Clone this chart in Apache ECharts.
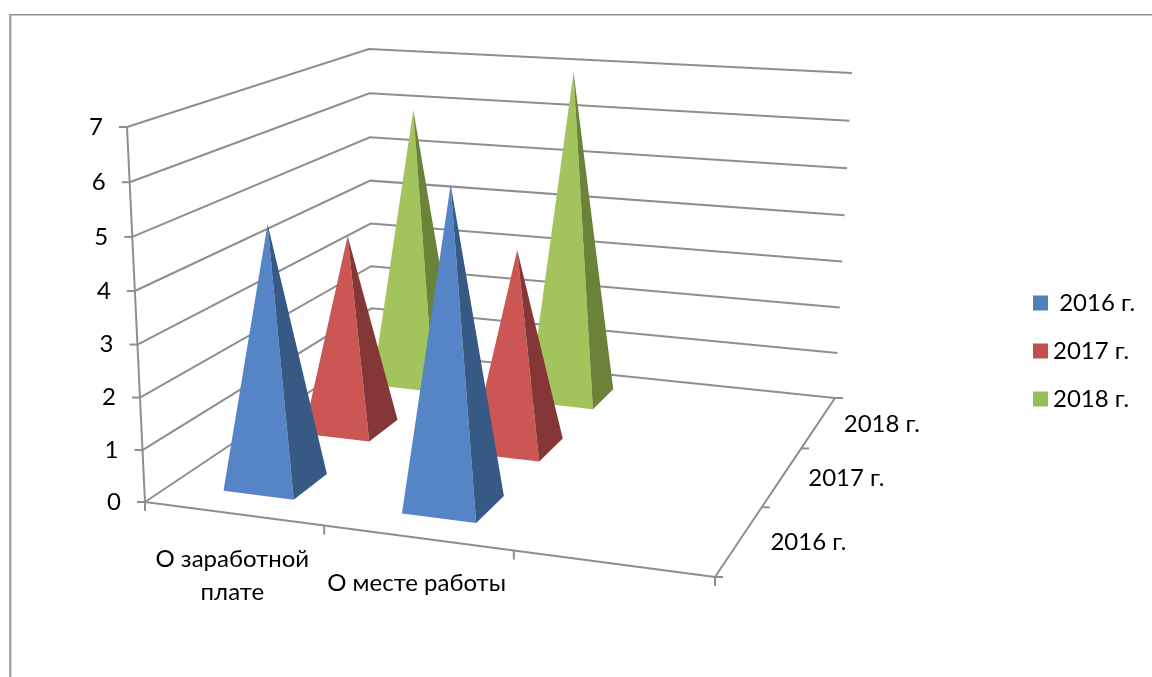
<!DOCTYPE html>
<html>
<head>
<meta charset="utf-8">
<style>html,body{margin:0;padding:0;background:#fff}#chart{width:1152px;height:677px}</style>
<script src="https://cdn.jsdelivr.net/npm/echarts@6/dist/echarts.min.js"></script>
</head>
<body>
<div id="chart"></div>
<script>
// Chart data
const categories = ['О заработной\nплате', 'О месте работы', ''];
const years = ['2016 г.', '2017 г.', '2018 г.'];
const valueTicks = [0, 1, 2, 3, 4, 5, 6, 7];
const values2016 = [5, 6];
const values2017 = [4, 4];
const values2018 = [6, 7];

// Face colours per year: legend swatch, lit front face, shaded right face
const swatchColors = ['#4F81BD', '#C0504D', '#9BBB59'];
const frontColors = ['#5585C6', '#CC5654', '#A3C45C'];
const sideColors = ['#375A84', '#843736', '#6B8239'];

const FONT = 'Lato, "Open Sans", sans-serif';
const FONT_SIZE = 24;
const LINE = '#8E8E8E';

// Perspective box of the 3D plot: floor and ceiling quads in screen space,
// ordered front-left, front-right, back-right, back-left.
const floorQuad = [[145, 502], [715, 577], [835, 398], [372, 350]];
const ceilQuad = [[127, 127], [736, 170], [852, 73], [369, 49]];
const VALUE_MAX = 7;
const HEIGHT_PERSPECTIVE = 0.965;
const BASE_WIDTH = 0.40;   // share of a category cell taken by a pyramid base
const BASE_DEPTH = 0.42;   // share of a depth cell
const DEPTH_LABEL_GAPS = [31, 26, 25]; // space between the depth axis and its labels

// Unit square to quad homography
function homography(q) {
  const [[x0, y0], [x1, y1], [x2, y2], [x3, y3]] = q;
  const dx1 = x1 - x2, dx2 = x3 - x2, dx3 = x0 - x1 + x2 - x3;
  const dy1 = y1 - y2, dy2 = y3 - y2, dy3 = y0 - y1 + y2 - y3;
  const det = dx1 * dy2 - dx2 * dy1;
  const g = (dx3 * dy2 - dx2 * dy3) / det;
  const h = (dx1 * dy3 - dx3 * dy1) / det;
  const a = x1 - x0 + g * x1, b = x3 - x0 + h * x3;
  const d = y1 - y0 + g * y1, e = y3 - y0 + h * y3;
  return (u, v) => {
    const w = g * u + h * v + 1;
    return [(a * u + b * v + x0) / w, (d * u + e * v + y0) / w];
  };
}
const floorAt = homography(floorQuad);
const ceilAt = homography(ceilQuad);

// 3D plot position (column, row, value) to screen position
function project(col, row, value) {
  const u = col / categories.length, v = row / years.length;
  const p0 = floorAt(u, v), p1 = ceilAt(u, v);
  const t = value / VALUE_MAX;
  const k = HEIGHT_PERSPECTIVE;
  const s = t * k / (1 + (k - 1) * t);
  return [p0[0] + (p1[0] - p0[0]) * s, p0[1] + (p1[1] - p0[1]) * s];
}

const stroke = { stroke: LINE, lineWidth: 2, fill: null };
const textStyle = extra => Object.assign({
  fill: '#000', fontSize: FONT_SIZE, fontFamily: FONT
}, extra);

function pyramidSeries(rowIndex, values) {
  return {
    type: 'custom',
    name: years[rowIndex],
    coordinateSystem: 'cartesian2d',
    clip: false,
    z: 10 + (years.length - rowIndex),
    itemStyle: { color: swatchColors[rowIndex] },
    data: values.map((v, i) => [i, v]),
    renderItem(params, api) {
      const col = api.value(0) + 0.5, row = rowIndex + 0.5, val = api.value(1);
      const hw = BASE_WIDTH / 2, hd = BASE_DEPTH / 2;
      const at = (c, r, z) => api.coord(project(c, r, z));
      const fl = at(col - hw, row - hd, 0);
      const fr = at(col + hw, row - hd, 0);
      const br = at(col + hw, row + hd, 0);
      const apex = at(col, row, val);
      return {
        type: 'group',
        children: [
          { type: 'polygon', shape: { points: [fl, fr, apex] }, style: { fill: frontColors[rowIndex] } },
          { type: 'polygon', shape: { points: [fr, br, apex] }, style: { fill: sideColors[rowIndex] } }
        ]
      };
    }
  };
}

// Gridlines on both walls, with the value axis ticks and labels
const valueAxisSeries = {
  type: 'custom', coordinateSystem: 'cartesian2d', clip: false, z: 2, silent: true,
  data: valueTicks.map(v => [v]),
  renderItem(params, api) {
    const v = api.value(0);
    const a = api.coord(project(0, 0, v));
    const b = api.coord(project(0, years.length, v));
    const c = api.coord(project(categories.length, years.length, v));
    return {
      type: 'group',
      children: [
        { type: 'polyline', shape: { points: [a, b, c] }, style: stroke },
        { type: 'line', shape: { x1: a[0] - 8, y1: a[1], x2: a[0], y2: a[1] }, style: stroke },
        { type: 'text', style: textStyle({ text: String(v), x: a[0] - 24, y: a[1], align: 'right', verticalAlign: 'middle' }) }
      ]
    };
  }
};

// Vertical axis line at the front-left corner
const valueLineSeries = {
  type: 'custom', coordinateSystem: 'cartesian2d', clip: false, z: 2, silent: true,
  data: [[0]],
  renderItem(params, api) {
    const pts = valueTicks.map(v => api.coord(project(0, 0, v)));
    return { type: 'polyline', shape: { points: pts }, style: stroke };
  }
};

// Category axis along the front floor edge
const categoryAxisSeries = {
  type: 'custom', coordinateSystem: 'cartesian2d', clip: false, z: 3, silent: true,
  data: categories.map((c, i) => [i]).concat([[categories.length]]),
  renderItem(params, api) {
    const i = api.value(0);
    const a = api.coord(project(i, 0, 0));
    const children = [{ type: 'line', shape: { x1: a[0], y1: a[1], x2: a[0], y2: a[1] + 9 }, style: stroke }];
    if (i < categories.length) {
      const b = api.coord(project(i + 1, 0, 0));
      const m = api.coord(project(i + 0.5, 0, 0));
      children.push({ type: 'line', shape: { x1: a[0], y1: a[1], x2: b[0], y2: b[1] }, style: stroke });
      children.push({ type: 'text', style: textStyle({ text: categories[i], x: m[0] - 1, y: m[1] + 29, align: 'center', verticalAlign: 'top', lineHeight: 33 }) });
    }
    return { type: 'group', children };
  }
};

// Depth axis along the right floor edge
const depthAxisSeries = {
  type: 'custom', coordinateSystem: 'cartesian2d', clip: false, z: 3, silent: true,
  data: years.map((y, i) => [i]).concat([[years.length]]),
  renderItem(params, api) {
    const i = api.value(0);
    const n = categories.length;
    const a = api.coord(project(n, i, 0));
    const children = [{ type: 'line', shape: { x1: a[0], y1: a[1], x2: a[0] + 8, y2: a[1] }, style: stroke }];
    if (i < years.length) {
      const b = api.coord(project(n, i + 1, 0));
      const m = api.coord(project(n, i + 0.5, 0));
      children.push({ type: 'line', shape: { x1: a[0], y1: a[1], x2: b[0], y2: b[1] }, style: stroke });
      children.push({ type: 'text', style: textStyle({ text: years[i], x: m[0] + DEPTH_LABEL_GAPS[i], y: m[1] + 2, align: 'left', verticalAlign: 'middle' }) });
    }
    return { type: 'group', children };
  }
};

const chart = echarts.init(document.getElementById('chart'), null, { renderer: 'canvas' });
chart.setOption({
  animation: false,
  backgroundColor: '#fff',
  tooltip: { show: false },
  // Screen-plane scales that carry the projected positions
  grid: { left: 0, right: 0, top: 0, bottom: 0 },
  xAxis: { type: 'value', min: 0, max: 1152, show: false },
  yAxis: { type: 'value', min: 0, max: 677, inverse: true, show: false },
  legend: {
    orient: 'vertical', left: 1033, top: 291, padding: 0, itemWidth: 15, itemHeight: 15, itemGap: 24,
    icon: 'rect', selectedMode: false,
    data: years,
    formatter: name => (name === years[0] ? '\u00a0' : '') + name,
    textStyle: { color: '#000', fontSize: FONT_SIZE, fontFamily: FONT, lineHeight: 24 }
  },
  // Outer chart frame, open at the right and bottom
  graphic: [
    { type: 'rect', shape: { x: 9, y: 14, width: 1143, height: 1.5 }, style: { fill: '#8E8E8E' }, silent: true },
    { type: 'rect', shape: { x: 9, y: 14, width: 2.5, height: 663 }, style: { fill: '#A6A6A6' }, silent: true }
  ],
  series: [
    valueAxisSeries, valueLineSeries, categoryAxisSeries, depthAxisSeries,
    pyramidSeries(2, values2018),
    pyramidSeries(1, values2017),
    pyramidSeries(0, values2016)
  ]
});
</script>
</body>
</html>
